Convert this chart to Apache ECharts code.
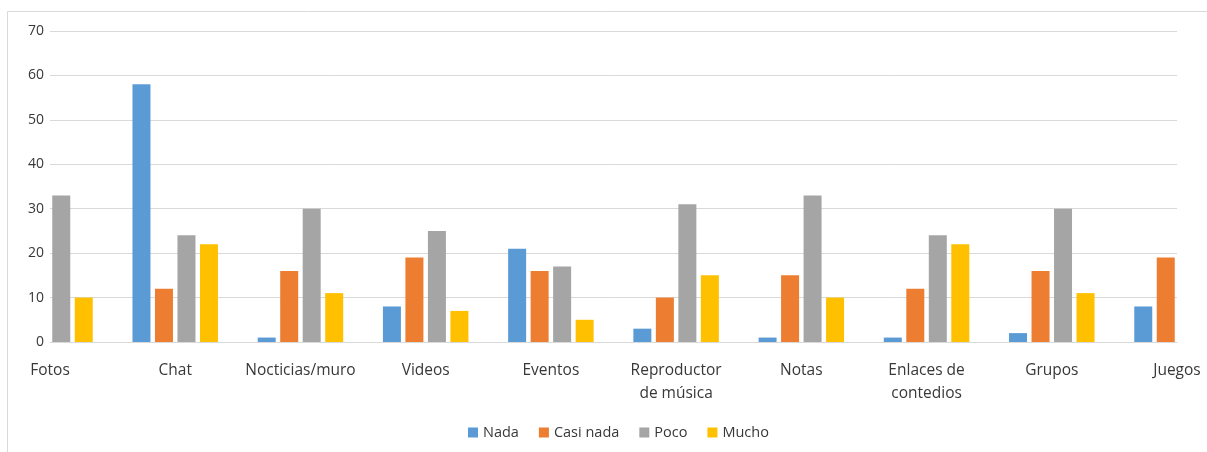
<!DOCTYPE html>
<html>
<head>
<meta charset="utf-8">
<script src="https://cdn.jsdelivr.net/npm/echarts@6/dist/echarts.min.js"></script>
<style>
html,body{margin:0;padding:0;background:#fff;}
#c{width:1207px;height:452px;}
</style>
</head>
<body>
<div id="c"></div>
<script>
var categories = ['Fotos', 'Chat', 'Nocticias/muro', 'Videos', 'Eventos', 'Reproductor\nde música', 'Notas', 'Enlaces de\ncontedios', 'Grupos', 'Juegos'];
var seriesNames = ['Nada', 'Casi nada', 'Poco', 'Mucho'];
// null = bar lies outside the visible plot (clipped in the reference)
var nada     = [null, 58, 1, 8, 21, 3, 1, 1, 2, 8];
var casiNada = [null, 12, 16, 19, 16, 10, 15, 12, 16, 19];
var poco     = [33, 24, 30, 25, 17, 31, 33, 24, 30, null];
var mucho    = [10, 22, 11, 7, 5, 15, 10, 22, 11, null];
var yTicks = [0, 10, 20, 30, 40, 50, 60, 70];

var colors = ['#5B9BD5', '#ED7D31', '#A5A5A5', '#FFC000'];
var values = [nada, casiNada, poco, mucho];
var font = 'Open Sans';

var chart = echarts.init(document.getElementById('c'), null, {renderer: 'canvas'});
chart.setOption({
  animation: false,
  color: colors,
  graphic: [{
    type: 'rect',
    shape: {x: 7.5, y: 11.5, width: 1300, height: 500},
    style: {fill: 'none', stroke: '#d9d9d9', lineWidth: 1},
    silent: true, z: -1
  }],
  grid: {left: 50, right: 30, top: 31, bottom: 110, containLabel: false},
  legend: {
    data: seriesNames,
    bottom: 7,
    left: 463,
    itemWidth: 10, itemHeight: 10, itemGap: 20,
    icon: 'rect',
    textStyle: {fontFamily: font, fontSize: 14.5, color: '#383838'}
  },
  xAxis: {
    type: 'category',
    data: categories,
    boundaryGap: false,
    axisLine: {lineStyle: {color: '#d9d9d9'}},
    axisTick: {show: false},
    axisLabel: {interval: 0, margin: 17, fontFamily: font, fontSize: 15.5, color: '#383838', lineHeight: 23}
  },
  yAxis: {
    type: 'value',
    min: yTicks[0], max: yTicks[yTicks.length - 1], interval: 10,
    axisLine: {show: false},
    axisTick: {show: false},
    splitLine: {lineStyle: {color: '#d9d9d9'}},
    axisLabel: {margin: 6, fontFamily: font, fontSize: 14, color: '#383838'}
  },
  series: seriesNames.map(function (n, i) {
    return {
      name: n, type: 'bar', data: values[i],
      barWidth: 18, barGap: '25%', clip: true
    };
  })
});
</script>
</body>
</html>
